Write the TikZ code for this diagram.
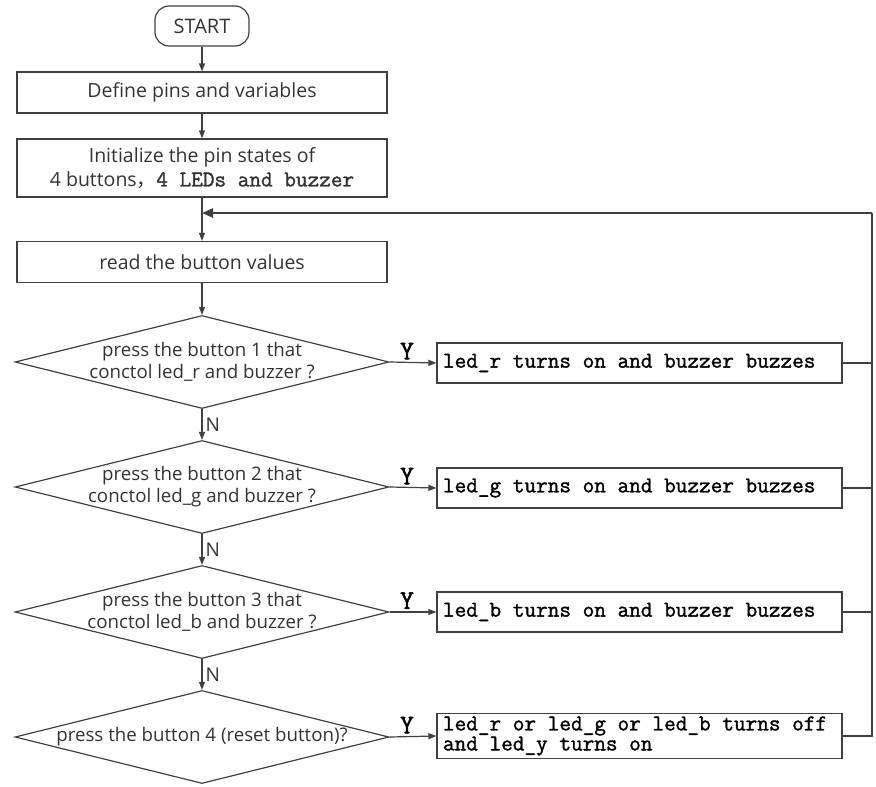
\documentclass[tikz,border=0pt]{standalone}
\usepackage{fontspec}
\setmainfont{Open Sans}
\newfontfamily\refmono{Latin Modern Mono}[FakeBold=1.4]
\newfontfamily\cjk{Noto Sans CJK SC}
\usetikzlibrary{shapes.geometric,arrows.meta}
\definecolor{linegray}{HTML}{404040}
\definecolor{textgray}{HTML}{333333}
\newcommand{\monotxt}[1]{{\refmono\fontsize{22.6}{23}\selectfont\spaceskip=0pt\xspaceskip=0pt #1}}

\begin{document}
\begin{tikzpicture}[x=1pt,y=-1pt,
		line/.style={draw=linegray,line width=1.2pt},
		arr/.style={line,-{Triangle[length=8pt,width=6pt]}},
		looparr/.style={draw=linegray,line width=2.4pt,-{Triangle[length=11pt,width=9pt]}},
		termbox/.style={line,rectangle,rounded corners=14pt,minimum width=94pt,minimum height=40pt,text=textgray,font=\fontsize{20}{24}\selectfont},
		procbox/.style={line,rectangle,minimum width=370pt,minimum height=41pt,inner sep=0pt,align=center,text=textgray,font=\fontsize{19.5}{24}\selectfont},
		decision/.style={line,diamond,aspect=4,minimum width=374pt,minimum height=93pt,inner sep=-6pt,align=center,text=textgray,font=\fontsize{18.7}{22}\selectfont},
		actbox/.style={line,rectangle,minimum width=405pt,minimum height=40pt,inner xsep=6pt,inner ysep=0pt,text width=393pt,align=left,text=black},
		ylabel/.style={font=\refmono\bfseries\fontsize{27}{27}\selectfont,inner sep=2.5pt},
		nlabel/.style={font=\fontsize{19}{19}\selectfont,text=textgray,inner sep=3pt}]
	\useasboundingbox (0,0) rectangle (876,787);
	% main column
	\node[termbox] (start) at (202,26) {START};
	\node[procbox] (define) at (202,92.5) {Define pins and variables};
	\node[procbox,minimum height=58pt] (init) at (202,168) {Initialize the pin states of\\4 buttons{\cjk，}\monotxt{4 LEDs and buzzer}};
	\node[procbox] (read) at (202,262) {read the button values};
	\node[decision] (btn1) at (202,362) {press the button 1 that\\conctol led\_r and buzzer ?};
	\node[decision] (btn2) at (202,487) {press the button 2 that\\conctol led\_g and buzzer ?};
	\node[decision] (btn3) at (202,612) {press the button 3 that\\conctol led\_b and buzzer ?};
	\node[decision] (btn4) at (202,737) {press the button 4 (reset button)?};
	% actions
	\node[actbox] (ledr) at (639.5,363) {\monotxt{led\_r turns on and buzzer buzzes}};
	\node[actbox] (ledg) at (639.5,488) {\monotxt{led\_g turns on and buzzer buzzes}};
	\node[actbox] (ledb) at (639.5,612) {\monotxt{led\_b turns on and buzzer buzzes}};
	\node[actbox,minimum height=45pt] (reset) at (639.5,736) {\monotxt{led\_r or led\_g or led\_b turns off\\and led\_y turns on}};
	\coordinate (rail) at (872,213);
	% arrows
	\draw[arr] (start) -- (define);
	\draw[arr] (define) -- (init);
	\draw[arr] (init) -- (read);
	\draw[arr] (read) -- (btn1);
	\draw[arr] (btn1) -- node[nlabel,right]{N} (btn2);
	\draw[arr] (btn2) -- node[nlabel,right]{N} (btn3);
	\draw[arr] (btn3) -- node[nlabel,right]{N} (btn4);
	\draw[arr] (btn1.east) -- node[ylabel,above,xshift=-6pt]{Y} (ledr.west);
	\draw[arr] (btn2.east) -- node[ylabel,above,xshift=-6pt]{Y} (ledg.west);
	\draw[arr] (btn3.east) -- node[ylabel,above,xshift=-6pt]{Y} (ledb.west);
	\draw[arr] (btn4.east) -- node[ylabel,above,xshift=-6pt]{Y} (reset.west);
	% back to reading
	\draw[line] (ledr.east) -- (ledr.east -| rail);
	\draw[line] (ledg.east) -- (ledg.east -| rail);
	\draw[line] (ledb.east) -- (ledb.east -| rail);
	\draw[line,line width=2pt] (reset.east) -| (rail);
	\draw[looparr] (rail) -- (init.south |- rail);
\end{tikzpicture}
\end{document}
